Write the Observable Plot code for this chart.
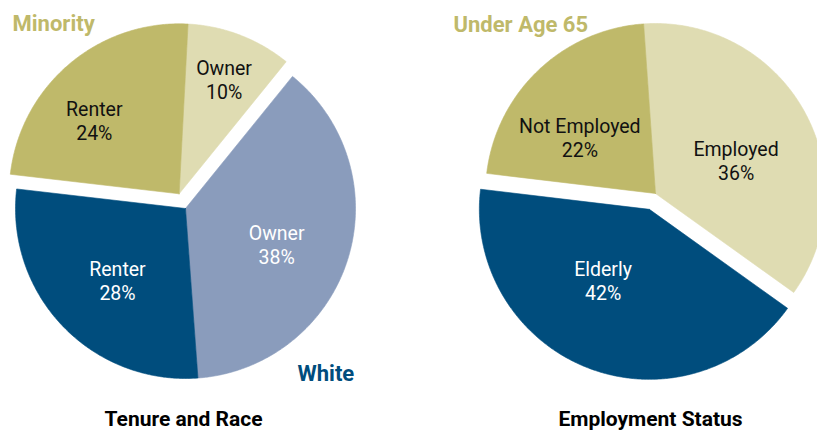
<!DOCTYPE html>
<html><head><meta charset="utf-8">
<script src="https://cdn.jsdelivr.net/npm/d3@7"></script>
<script src="https://cdn.jsdelivr.net/npm/@observablehq/plot@0.6"></script>
<style>body{margin:0;background:#fff}</style>
</head><body><div id="chart"></div>
<script>
// ---- data ----
const tenureLabels = ["Owner", "Owner", "Renter", "Renter"];
const tenureGroups = ["Minority", "White", "White", "Minority"];
const tenureValues = [10, 38, 28, 24];
const employmentLabels = ["Employed", "Elderly", "Not Employed"];
const employmentGroups = ["Under Age 65", "Elderly", "Under Age 65"];
const employmentValues = [36, 42, 22];
const chartTitles = ["Tenure and Race", "Employment Status"];
const groupLabels = ["Minority", "White", "Under Age 65"];

// ---- styles / layout ----
const FONT = "Roboto, 'Liberation Sans', sans-serif";
const C = {olive: "#bfb96a", beige: "#dfdcb2", navy: "#004d7d", slate: "#8a9cbc"};
const pies = [
  {
    values: tenureValues, labels: tenureLabels,
    cx: 185, cy: 208, r: 170, start: 3, explode: [0, 3], dist: 16,
    fills: [C.beige, C.slate, C.navy, C.olive],
    text: ["#111", "#fff", "#fff", "#111"],
    labelPolar: [[21.4, 123], [111.6, 98], [223.4, 99], [310.7, 112]],
    title: {x: 183, y: 419}
  },
  {
    values: employmentValues, labels: employmentLabels,
    cx: 655, cy: 193, r: 170, start: -4, explode: [1], dist: 17,
    fills: [C.beige, C.navy, C.olive],
    text: ["#111", "#fff", "#111"],
    labelPolar: [[67.8, 87], [213, 85], [306.4, 94]],
    title: {x: 650, y: 419}
  }
];
const groupLayout = [
  {x: 12, y: 23, fill: C.olive},
  {x: 297, y: 373, fill: C.navy},
  {x: 453, y: 24, fill: C.olive}
];

const rad = Math.PI / 180;
const sliceRows = [], labelRows = [], titleRows = [];
pies.forEach((p, pi) => {
  const a0 = p.start * rad;
  const arcs = d3.pie().sort(null).startAngle(a0).endAngle(a0 + 2 * Math.PI)(p.values);
  // explode direction: weighted mean direction of exploded slices
  let sx = 0, sy = 0;
  p.explode.forEach(i => {
    const m = (arcs[i].startAngle + arcs[i].endAngle) / 2;
    sx += p.values[i] * Math.sin(m); sy += p.values[i] * Math.cos(m);
  });
  const em = Math.atan2(sx, sy);
  arcs.forEach((a, i) => {
    const off = p.explode.includes(i) ? p.dist : 0;
    const cx = p.cx + off * Math.sin(em), cy = p.cy - off * Math.cos(em);
    const id = pi + "-" + i;
    sliceRows.push({id, x: cx, y: cy, fill: p.fills[i]});
    const n = Math.max(2, Math.ceil((a.endAngle - a.startAngle) / (0.5 * rad)));
    for (let k = 0; k <= n; k++) {
      const t = a.startAngle + (a.endAngle - a.startAngle) * k / n;
      sliceRows.push({id, x: cx + p.r * Math.sin(t), y: cy - p.r * Math.cos(t), fill: p.fills[i]});
    }
    sliceRows.push({id, x: cx, y: cy, fill: p.fills[i]});
    const [la, lr] = p.labelPolar[i];
    labelRows.push({
      x: cx + lr * Math.sin(la * rad), y: cy - lr * Math.cos(la * rad),
      text: p.labels[i] + "\n" + p.values[i] + "%", fill: p.text[i]
    });
  });
  titleRows.push({x: p.title.x, y: p.title.y, text: chartTitles[pi]});
});
const groupRows = groupLabels.map((g, i) => ({...groupLayout[i], text: g}));

const chart = Plot.plot({
  width: 817, height: 432, margin: 0,
  x: {domain: [0, 817], axis: null},
  y: {domain: [0, 432], reverse: true, axis: null},
  color: {type: "identity"},
  style: {background: "#fff"},
  marks: [
    Plot.line(sliceRows, {x: "x", y: "y", z: "id", fill: "fill", stroke: "fill", strokeWidth: 0.6, curve: "linear"}),
    Plot.text(labelRows, {x: "x", y: "y", text: "text", fill: "fill", fontSize: 19.5, lineHeight: 1.22, fontFamily: FONT}),
    Plot.text(groupRows, {x: "x", y: "y", text: "text", fill: "fill", textAnchor: "start", fontSize: 22, fontWeight: "bold", fontFamily: FONT}),
    Plot.text(titleRows, {x: "x", y: "y", text: "text", fill: "#000", fontSize: 21, fontWeight: "bold", fontFamily: FONT})
  ]
});
document.getElementById("chart").appendChild(chart);
</script>
</body></html>
